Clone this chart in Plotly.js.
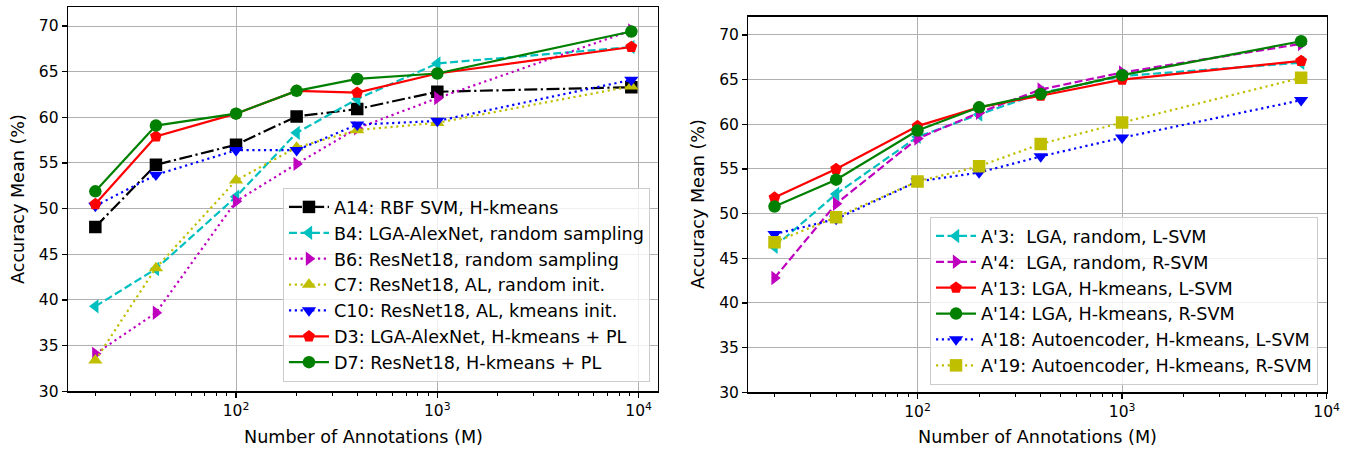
<!DOCTYPE html>
<html>
<head>
<meta charset="utf-8">
<script src="https://cdn.plot.ly/plotly-3.0.1.min.js"></script>
<style>html,body{margin:0;padding:0;background:#fff;}#chart{width:1351px;height:452px;}</style>
</head>
<body>
<div id="chart"></div>
<script>
// ---- Data: left panel ----
const leftX = [20, 40, 100, 200, 400, 1000, 9200];
const A14 = [48.0, 54.8, 57.0, 60.1, 60.9, 62.8, 63.3];
const B4  = [39.3, 43.4, 51.3, 58.3, 62.0, 65.9, 67.7];
const B6  = [34.1, 38.6, 50.8, 54.9, 58.8, 62.1, 69.5];
const C7  = [33.4, 43.5, 53.1, 56.7, 58.6, 59.4, 63.4];
const C10 = [50.3, 53.7, 56.4, 56.4, 59.2, 59.6, 64.1];
const D3  = [50.5, 57.9, 60.4, 62.9, 62.7, 64.8, 67.7];
const D7  = [51.9, 59.1, 60.4, 62.9, 64.2, 64.8, 69.4];
const leftNames = ["A14: RBF SVM, H-kmeans", "B4: LGA-AlexNet, random sampling",
  "B6: ResNet18, random sampling", "C7: ResNet18, AL, random init.",
  "C10: ResNet18, AL, kmeans init.", "D3: LGA-AlexNet, H-kmeans + PL",
  "D7: ResNet18, H-kmeans + PL"];

// ---- Data: right panel ----
const rightX = [20, 40, 100, 200, 400, 1000, 7500];
const Ap3  = [46.3, 52.2, 58.6, 61.1, 63.5, 65.4, 66.9];
const Ap4  = [42.8, 51.1, 58.4, 61.3, 63.9, 65.8, 69.0];
const Ap13 = [51.8, 55.0, 59.8, 61.9, 63.2, 65.0, 67.1];
const Ap14 = [50.8, 53.8, 59.3, 61.9, 63.4, 65.5, 69.3];
const Ap18 = [47.7, 49.4, 53.6, 54.6, 56.4, 58.5, 62.7];
const Ap19 = [46.8, 49.6, 53.6, 55.3, 57.8, 60.2, 65.2];
const rightNames = ["A'3:  LGA, random, L-SVM", "A'4:  LGA, random, R-SVM",
  "A'13: LGA, H-kmeans, L-SVM", "A'14: LGA, H-kmeans, R-SVM",
  "A'18: Autoencoder, H-kmeans, L-SVM", "A'19: Autoencoder, H-kmeans, R-SVM"];

const xTickVals = [100, 1000, 10000];
const xTickText = ["10<sup>2</sup>", "10<sup>3</sup>", "10<sup>4</sup>"];
const yTickVals = [30, 35, 40, 45, 50, 55, 60, 65, 70];

const C = {k:'#000000', c:'#00bfbf', m:'#bf00bf', y:'#bfbf00', b:'#0000ff', r:'#ff0000', g:'#008000'};
const D = {solid: 'solid', dash: '8px,3.5px', dot: '2.2px,3.6px', dashdot: '13px,3.5px,2.2px,3.5px'};

function tr(x, y, name, color, dash, symbol, xa, ya, leg, grp) {
  return {x: x, y: y, name: name, type: 'scatter', mode: 'lines+markers',
    xaxis: xa, yaxis: ya, legend: leg, legendgroup: grp,
    line: {color: color, width: 2.2, dash: D[dash]},
    marker: {color: color, symbol: symbol, size: 12.5, line: {width: 0}}};
}

const data = [
  tr(leftX, A14, leftNames[0], C.k, 'dashdot', 'square', 'x', 'y', 'legend', 'l1'),
  tr(leftX, B4,  leftNames[1], C.c, 'dash', 'triangle-left', 'x', 'y', 'legend', 'l2'),
  tr(leftX, B6,  leftNames[2], C.m, 'dot', 'triangle-right', 'x', 'y', 'legend', 'l3'),
  tr(leftX, C7,  leftNames[3], C.y, 'dot', 'triangle-up', 'x', 'y', 'legend', 'l4'),
  tr(leftX, C10, leftNames[4], C.b, 'dot', 'triangle-down', 'x', 'y', 'legend', 'l5'),
  tr(leftX, D3,  leftNames[5], C.r, 'solid', 'pentagon', 'x', 'y', 'legend', 'l6'),
  tr(leftX, D7,  leftNames[6], C.g, 'solid', 'circle', 'x', 'y', 'legend', 'l7'),
  tr(rightX, Ap3,  rightNames[0], C.c, 'dash', 'triangle-left', 'x2', 'y2', 'legend2', 'r1'),
  tr(rightX, Ap4,  rightNames[1], C.m, 'dash', 'triangle-right', 'x2', 'y2', 'legend2', 'r2'),
  tr(rightX, Ap13, rightNames[2], C.r, 'solid', 'pentagon', 'x2', 'y2', 'legend2', 'r3'),
  tr(rightX, Ap14, rightNames[3], C.g, 'solid', 'circle', 'x2', 'y2', 'legend2', 'r4'),
  tr(rightX, Ap18, rightNames[4], C.b, 'dot', 'triangle-down', 'x2', 'y2', 'legend2', 'r5'),
  tr(rightX, Ap19, rightNames[5], C.y, 'dot', 'square', 'x2', 'y2', 'legend2', 'r6')
];

const tickFont = {family: 'DejaVu Sans', size: 15.5, color: '#000'};
const labelFont = {family: 'DejaVu Sans', size: 17.6, color: '#000'};

function xax(domain, range, anchor) {
  return {type: 'log', domain: domain, range: range, anchor: anchor,
    tickvals: xTickVals, ticktext: xTickText, ticks: 'outside', ticklen: 5, tickwidth: 1.2,
    tickcolor: '#000', showline: true, mirror: true, linecolor: '#000', linewidth: 1.3,
    showgrid: true, gridcolor: '#b0b0b0', gridwidth: 1, zeroline: false, automargin: false,
    tickfont: tickFont,
    minor: {ticks: 'outside', ticklen: 3, tickcolor: '#000', tickwidth: 1, dtick: 'D1', showgrid: false}};
}
function yax(domain, range, anchor) {
  return {domain: domain, range: range, anchor: anchor, tickvals: yTickVals,
    ticks: 'outside', ticklen: 5, tickwidth: 1.2, tickcolor: '#000',
    showline: true, mirror: true, linecolor: '#000', linewidth: 1.3,
    showgrid: true, gridcolor: '#b0b0b0', gridwidth: 1, zeroline: false, automargin: false,
    tickfont: tickFont};
}

const legendStyle = {bgcolor: 'rgba(255,255,255,0.8)', bordercolor: '#cccccc', borderwidth: 1,
  font: labelFont, tracegroupgap: 0, itemwidth: 40};

const layout = {
  width: 1351, height: 452, margin: {l: 0, r: 0, t: 0, b: 0},
  paper_bgcolor: '#fff', plot_bgcolor: '#fff', showlegend: true, font: tickFont,
  xaxis: xax([0.0503, 0.4870], [1.165, 4.096], 'y'),
  yaxis: yax([0.1343, 0.9845], [30, 72.08], 'x'),
  xaxis2: xax([0.5539, 0.9820], [1.173, 4.0], 'y2'),
  yaxis2: yax([0.1321, 0.9631], [30, 72.05], 'x2'),
  legend: Object.assign({x: 0.4811, y: 0.1549, xanchor: 'right', yanchor: 'bottom'}, legendStyle),
  legend2: Object.assign({x: 0.9756, y: 0.1482, xanchor: 'right', yanchor: 'bottom'}, legendStyle),
  annotations: [
    {text: 'Number of Annotations (M)', xref: 'paper', yref: 'paper', x: 0.2687, y: 1 - 437/452, showarrow: false, font: labelFont, xanchor: 'center', yanchor: 'middle'},
    {text: 'Number of Annotations (M)', xref: 'paper', yref: 'paper', x: 0.7680, y: 1 - 437/452, showarrow: false, font: labelFont, xanchor: 'center', yanchor: 'middle'},
    {text: 'Accuracy Mean (%)', xref: 'paper', yref: 'paper', x: 18/1351, y: 1 - 199/452, textangle: -90, showarrow: false, font: labelFont, xanchor: 'center', yanchor: 'middle'},
    {text: 'Accuracy Mean (%)', xref: 'paper', yref: 'paper', x: 698/1351, y: 1 - 204/452, textangle: -90, showarrow: false, font: labelFont, xanchor: 'center', yanchor: 'middle'}
  ]
};

Plotly.newPlot('chart', data, layout, {displayModeBar: false, staticPlot: true});
</script>
</body>
</html>
